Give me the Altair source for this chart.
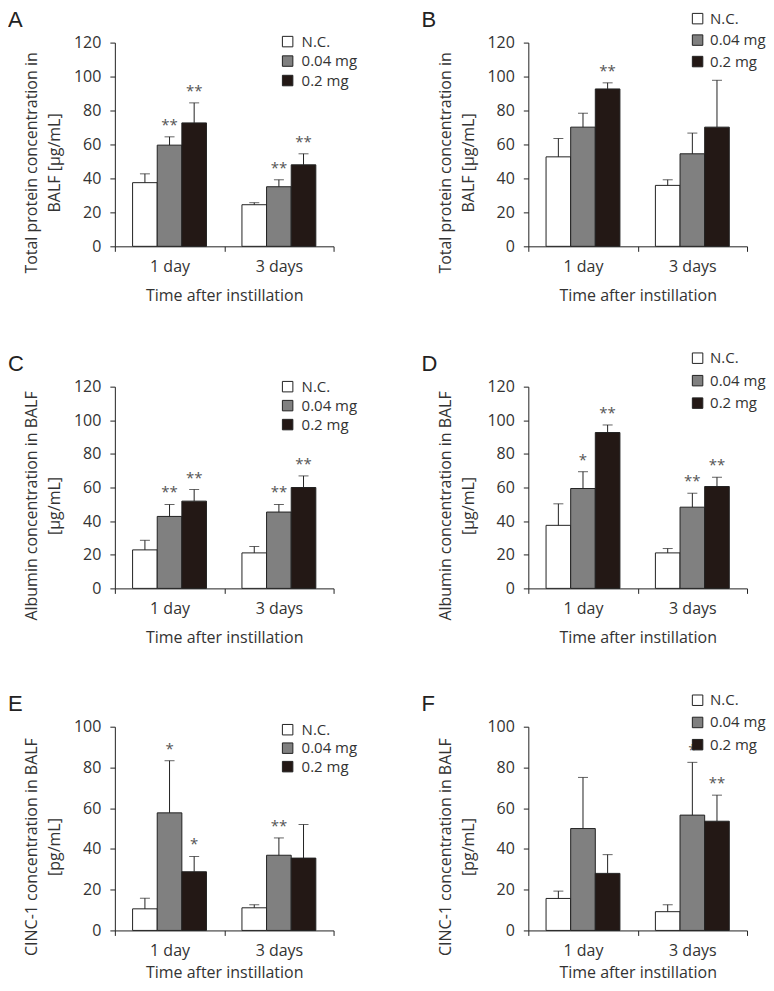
import altair as alt
import pandas as pd

times = ["1 day", "3 days"]
groups = ["N.C.", "0.04 mg", "0.2 mg"]
colors = ["#ffffff", "#808080", "#231815"]

# order: 1 day (N.C., 0.04 mg, 0.2 mg), 3 days (N.C., 0.04 mg, 0.2 mg)
a_mean = [37.5, 59.6, 72.7, 24.5, 35.1, 48.0]
a_sd = [5.2, 4.9, 11.8, 1.2, 4.1, 6.5]
a_sig = ["", "**", "**", "", "**", "**"]

b_mean = [52.7, 70.2, 92.7, 35.9, 54.5, 70.2]
b_sd = [10.8, 8.2, 3.6, 3.3, 12.2, 27.6]
b_sig = ["", "", "**", "", "", ""]

c_mean = [22.9, 42.8, 51.9, 21.1, 45.4, 60.0]
c_sd = [5.7, 7.1, 6.9, 3.8, 4.5, 6.9]
c_sig = ["", "**", "**", "", "**", "**"]

d_mean = [37.5, 59.4, 92.7, 21.1, 48.3, 60.6]
d_sd = [12.8, 10.0, 4.5, 2.6, 8.3, 5.5]
d_sig = ["", "*", "**", "", "**", "**"]

e_mean = [10.6, 57.7, 28.8, 11.1, 36.9, 35.5]
e_sd = [5.2, 25.6, 7.5, 1.5, 8.5, 16.5]
e_sig = ["", "*", "*", "", "**", ""]

f_mean = [15.7, 50.0, 28.0, 9.2, 56.6, 53.6]
f_sd = [3.6, 25.1, 9.2, 3.4, 25.9, 12.8]
f_sig = ["", "", "", "", "*", "**"]

title_protein = ["Total protein concentration in", "BALF [μg/mL]"]
title_albumin = ["Albumin concentration in BALF", "[μg/mL]"]
title_cinc = ["CINC-1 concentration in BALF", "[pg/mL]"]

FONT = "Open Sans"
TXT = "#333333"
LINE = "#222222"
W, H = 219, 204


def panel(letter, means, sds, sigs, ytitle, ymax, leg_top, leg_bottom, sq_x, txt_x,
          top_gap=0, xtitle_pad=6):
    df = pd.DataFrame({
        "time": [t for t in times for g in groups],
        "group": [g for t in times for g in groups],
        "mean": means,
        "sd": sds,
        "sig": sigs,
    })
    df["upper"] = df["mean"] + df["sd"]
    base = alt.Chart(df)
    x = alt.X("time:N", sort=times,
              scale=alt.Scale(paddingInner=0, paddingOuter=0),
              axis=alt.Axis(title="Time after instillation", labelAngle=0,
                            tickBand="extent", tickSize=5, labelPadding=7,
                            titlePadding=xtitle_pad, labelFontSize=16,
                            titleFontSize=16))
    xo = alt.XOffset("group:N", sort=groups,
                     scale=alt.Scale(paddingInner=0, paddingOuter=0.72))
    yscale = alt.Scale(domain=[0, ymax], nice=False, range=[H, top_gap])
    yaxis = alt.Axis(title=ytitle, values=list(range(0, ymax + 1, 20)),
                     labelOverlap=False, tickSize=5, labelPadding=9,
                     titleX=-75, titleLineHeight=23,
                     titleY=(H + top_gap) / 2 + 18,
                     labelFontSize=16, titleFontSize=16)
    colscale = alt.Scale(domain=groups, range=colors)
    bars = base.mark_bar(stroke=LINE, strokeWidth=1).encode(
        x=x, xOffset=xo,
        y=alt.Y("mean:Q", scale=yscale, axis=yaxis),
        color=alt.Color("group:N", sort=groups, scale=colscale, legend=None),
    )
    rule = base.mark_rule(color=LINE, strokeWidth=1).encode(
        x=x, xOffset=xo, y=alt.Y("mean:Q", scale=yscale, axis=yaxis), y2="upper:Q")
    cap = base.mark_tick(orient="horizontal", size=10, thickness=1, color=LINE).encode(
        x=x, xOffset=xo, y=alt.Y("upper:Q", scale=yscale, axis=yaxis))
    stars = base.mark_text(baseline="alphabetic", dy=-7, fontSize=15, font=FONT,
                           color="#555555").encode(
        x=x, xOffset=xo, y=alt.Y("upper:Q", scale=yscale, axis=yaxis), text="sig:N")
    main = alt.layer(bars, rule, cap, stars)

    leg_df = pd.DataFrame({"group": groups})
    ly = alt.Y("group:N", sort=groups, axis=None,
               scale=alt.Scale(domain=groups, range=[leg_top, leg_bottom], padding=0))
    sq = alt.Chart(leg_df).mark_square(size=110, stroke=LINE, strokeWidth=1,
                                       opacity=1, filled=True).encode(
        x=alt.value(sq_x), y=ly,
        color=alt.Color("group:N", sort=groups, scale=colscale, legend=None))
    txt = alt.Chart(leg_df).mark_text(align="left", baseline="middle", fontSize=15,
                                      font=FONT, color=TXT).encode(
        x=alt.value(txt_x), y=ly, text="group:N")
    legend = alt.layer(sq, txt)

    lab = alt.Chart(pd.DataFrame({"t": [letter]})).mark_text(
        align="left", baseline="top", fontSize=22, font="Liberation Sans",
        color=LINE).encode(x=alt.value(-107), y=alt.value(top_gap - 33), text="t:N")
    return alt.layer(main, legend, lab).resolve_scale(y="independent").properties(
        width=W, height=H)


pA = panel("A", a_mean, a_sd, a_sig, title_protein, 120, -1, 38, 173, 187,
           xtitle_pad=13)
pB = panel("B", b_mean, b_sd, b_sig, title_protein, 120, -24, 19, 169.5, 182,
           xtitle_pad=13)
pC = panel("C", c_mean, c_sd, c_sig, title_albumin, 120, 2, 40, 173, 187, top_gap=2,
           xtitle_pad=13)
pD = panel("D", d_mean, d_sd, d_sig, title_albumin, 120, -26.5, 18.5, 169.5, 182,
           top_gap=2, xtitle_pad=13)
pE = panel("E", e_mean, e_sd, e_sig, title_cinc, 100, 3, 40, 173, 187)
pF = panel("F", f_mean, f_sd, f_sig, title_cinc, 100, -26.5, 18, 169.5, 182)

chart = alt.concat(pA, pB, pC, pD, pE, pF, columns=2, bounds="flush",
                   spacing={"row": 138.5, "column": 195}).resolve_scale(
    x="independent", y="independent", color="independent", xOffset="independent"
).properties(padding={"top": 0, "left": 0, "right": 0, "bottom": 2}).configure_view(
    stroke=None
).configure_axis(
    labelFont=FONT, titleFont=FONT, labelColor=TXT, titleColor=TXT,
    titleFontWeight="normal", domainColor=LINE, tickColor=LINE, grid=False
)

chart.save("out.html", embed_options={"renderer": "svg", "actions": False})
